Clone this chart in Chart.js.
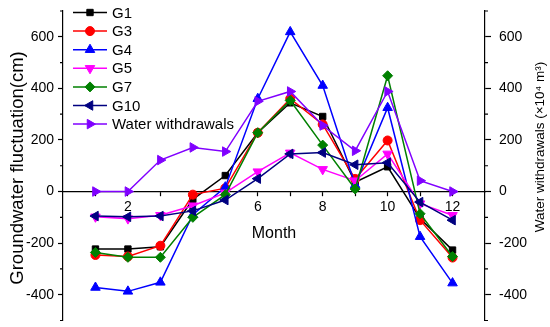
<!DOCTYPE html>
<html>
<head>
<meta charset="utf-8">
<script src="https://cdn.jsdelivr.net/npm/chart.js@4.4.0/dist/chart.umd.min.js"></script>
<style>
  html, body { margin: 0; padding: 0; background: #fff; }
</style>
</head>
<body>
<canvas id="chart" width="550" height="327"></canvas>
<script>
// data (cm, and 10^4 m3 for withdrawals)
const months = [1, 2, 3, 4, 5, 6, 7, 8, 9, 10, 11, 12];
const g1  = [-223, -223, -214, -30, 62, 228, 344, 291, 36, 96, -105, -227];
const g3  = [-246, -252, -210, -12, 13, 228, 360, 260, 49, 198, -111, -256];
const g4  = [-372, -387, -352, -90, 17, 360, 619, 411, 25, 325, -175, -355];
const g5  = [-98, -105, -92, -55, -5, 77, 150, 86, 42, 146, -47, -92];
const g7  = [-236, -255, -255, -100, -12, 228, 353, 180, 10, 449, -86, -252];
const g10 = [-95, -98, -95, -75, -33, 50, 146, 151, 104, 112, -41, -111];
const water = [0, 0, 122, 171, 155, 350, 388, 256, 158, 388, 42, 0];

const yTickLabels = [-400, -200, 0, 200, 400, 600];
const xTickLabels = [2, 4, 6, 8, 10, 12];

const FONT = '"Liberation Sans", Arial, sans-serif';

const series = [
  { label: 'G1', values: g1, color: '#000000', style: 'rect', rot: 0, r: 4.5, axis: 'y' },
  { label: 'G3', values: g3, color: '#ff0000', style: 'circle', rot: 0, r: 4.5, axis: 'y' },
  { label: 'G4', values: g4, color: '#0000ff', style: 'triangle', rot: 0, r: 5.5, axis: 'y' },
  { label: 'G5', values: g5, color: '#ff00ff', style: 'triangle', rot: 180, r: 5.5, axis: 'y' },
  { label: 'G7', values: g7, color: '#008000', style: 'rectRot', rot: 0, r: 5, axis: 'y' },
  { label: 'G10', values: g10, color: '#000080', style: 'triangle', rot: -90, r: 5.5, axis: 'y' },
  { label: 'Water withdrawals', values: water, color: '#8000ff', style: 'triangle', rot: 90, r: 5.5, axis: 'yR' }
];

const datasets = series.map((s, i) => ({
  label: s.label,
  data: months.map((m, j) => ({ x: m, y: s.values[j] })),
  yAxisID: s.axis,
  borderColor: s.color,
  backgroundColor: s.color,
  borderWidth: 1.5,
  pointStyle: s.style,
  pointRotation: s.rot,
  pointRadius: s.r,
  pointBorderWidth: 1,
  pointBackgroundColor: s.color,
  pointBorderColor: s.color,
  tension: 0,
  fill: false,
  clip: false,
  order: series.length - i
}));

function yAxis(pos, tickLen, pad) {
  return {
    type: 'linear',
    position: pos,
    min: -500,
    max: 700,
    ticks: {
      stepSize: 100,
      autoSkip: false,
      padding: pad,
      color: '#000',
      font: { family: FONT, size: 14 },
      callback: v => yTickLabels.includes(v) ? String(v) : ''
    },
    grid: {
      drawOnChartArea: false,
      drawTicks: true,
      tickLength: tickLen,
      tickWidth: 1.2,
      tickColor: c => (c.tick && yTickLabels.includes(c.tick.value)) ? '#000' : 'transparent'
    },
    border: { display: true, color: '#000', width: 1.2 },
    title: { display: false },
    afterFit: s => { s.width = pos === 'left' ? 63 : 65; s.paddingTop = 0; s.paddingBottom = 0; }
  };
}

// minor ticks, axis titles and the legend
const extras = {
  id: 'extras',
  afterDraw(chart) {
    const ctx = chart.ctx;
    const a = chart.chartArea;
    const ys = chart.scales.y;
    ctx.save();
    ctx.strokeStyle = '#000';
    ctx.lineWidth = 1.2;
    for (let v = -500; v <= 700; v += 100) {
      if (yTickLabels.includes(v)) continue;
      const py = ys.getPixelForValue(v);
      ctx.beginPath();
      ctx.moveTo(a.left - 3, py); ctx.lineTo(a.left, py);
      ctx.moveTo(a.right, py); ctx.lineTo(a.right + 3, py);
      ctx.stroke();
    }

    ctx.fillStyle = '#000';
    ctx.textAlign = 'center';
    ctx.textBaseline = 'middle';
    ctx.font = '16px ' + FONT;
    ctx.fillText('Month', (a.left + a.right) / 2, 234);

    ctx.save();
    ctx.translate(18, 168);
    ctx.rotate(-Math.PI / 2);
    ctx.font = '18.5px ' + FONT;
    ctx.fillText('Groundwater fluctuation(cm)', 0, 0);
    ctx.restore();

    ctx.save();
    ctx.translate(540, 147);
    ctx.rotate(-Math.PI / 2);
    ctx.font = '13.5px ' + FONT;
    ctx.fillText('Water withdrawals (\u00d710\u2074 m\u00b3)', 0, 0);
    ctx.restore();

    // legend
    ctx.textAlign = 'left';
    ctx.font = '15px ' + FONT;
    series.forEach((s, i) => {
      const ly = 12.5 + i * 18.6;
      ctx.strokeStyle = s.color;
      ctx.lineWidth = 1.5;
      ctx.beginPath();
      ctx.moveTo(73, ly); ctx.lineTo(107, ly);
      ctx.stroke();
      ctx.fillStyle = s.color;
      ctx.lineWidth = 1;
      Chart.helpers.drawPoint(ctx, { pointStyle: s.style, rotation: s.rot, radius: s.r, borderWidth: 1 }, 90, ly);
      ctx.fillStyle = '#000';
      ctx.fillText(s.label, 112, ly + 1);
    });
    ctx.restore();
  }
};

new Chart(document.getElementById('chart'), {
  type: 'line',
  data: { datasets: datasets },
  options: {
    responsive: false,
    animation: false,
    devicePixelRatio: 1,
    layout: { padding: { top: 11, bottom: 0, left: 0, right: 0 } },
    plugins: { legend: { display: false }, tooltip: { enabled: false } },
    scales: {
      x: {
        type: 'linear',
        min: 0,
        max: 13,
        position: { y: 0 },
        ticks: {
          stepSize: 1,
          autoSkip: false,
          maxRotation: 0,
          padding: 3,
          color: '#000',
          font: { family: FONT, size: 14 },
          callback: v => xTickLabels.includes(v) ? String(v) : ''
        },
        grid: {
          drawOnChartArea: false,
          drawTicks: true,
          tickLength: 4,
          tickWidth: 1.2,
          tickColor: c => (c.tick && (c.tick.value === 0 || c.tick.value === 13)) ? 'transparent' : '#000'
        },
        border: { display: true, color: '#000', width: 1.2 },
        title: { display: false },
        afterFit: s => { s.height = 0; s.paddingLeft = 0; s.paddingRight = 0; }
      },
      y: yAxis('left', 5, 4),
      yR: yAxis('right', 6, 8)
    }
  },
  plugins: [extras]
});
</script>
</body>
</html>
